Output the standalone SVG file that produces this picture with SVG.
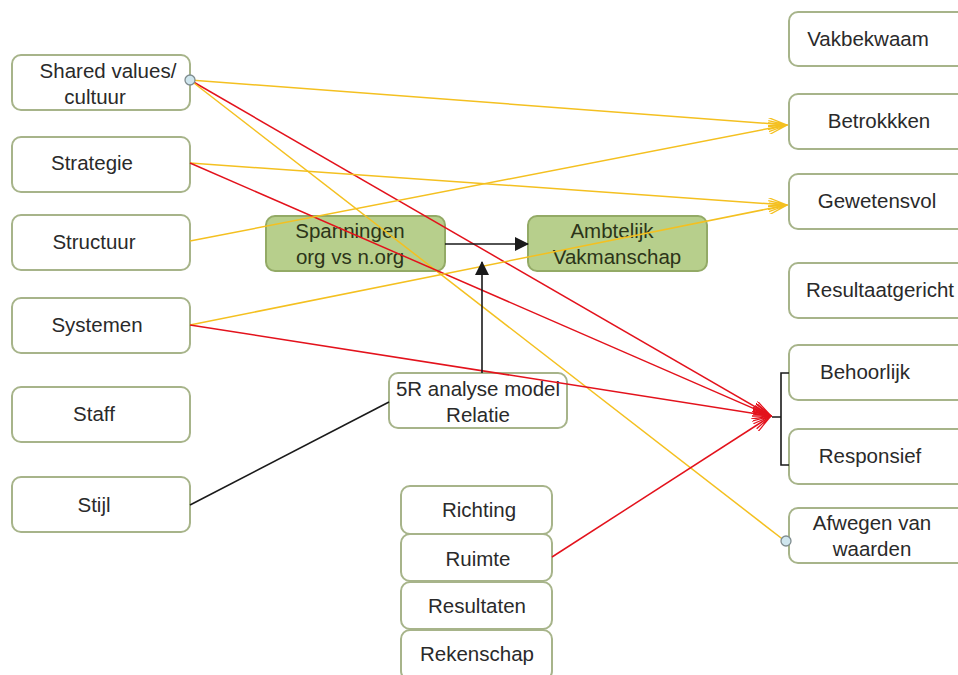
<svg xmlns="http://www.w3.org/2000/svg" width="958" height="675" viewBox="0 0 958 675">
<style>
.n rect{fill:#ffffff;stroke:#a7b48a;stroke-width:2}
.g rect{fill:#b7cf8c;stroke:#93aa66;stroke-width:2}
text{font-family:"Liberation Sans",Arial,sans-serif;font-size:20.5px;fill:#2a2a2a;text-anchor:middle}
.g text{fill:#2c3418}
.y{stroke:#f4c020;stroke-width:1.5;fill:none}
.r{stroke:#e3121c;stroke-width:1.5;fill:none}
.k{stroke:#1a1a1a;stroke-width:1.6;fill:none}
.c{fill:#cfe6ee;stroke:#7f8c8f;stroke-width:1.3}
</style>
<defs>
<marker id="ay" viewBox="0 0 20 12" refX="19" refY="6" markerWidth="20" markerHeight="12" markerUnits="userSpaceOnUse" orient="auto"><path d="M0,0 L19,6 L0,12 M0,3 L19,6 L0,9" fill="none" stroke="#f4c020" stroke-width="1.3"/></marker>
<marker id="ar" viewBox="0 0 20 12" refX="19" refY="6" markerWidth="20" markerHeight="12" markerUnits="userSpaceOnUse" orient="auto"><path d="M0,0 L19,6 L0,12 M0,3 L19,6 L0,9" fill="none" stroke="#e3121c" stroke-width="1.3"/></marker>
<marker id="ak" viewBox="0 0 14 14" refX="13" refY="7" markerWidth="14" markerHeight="14" markerUnits="userSpaceOnUse" orient="auto"><path d="M0,0 L14,7 L0,14 Z" fill="#1a1a1a"/></marker>
</defs>

<g id="n-shared" class="n"><rect x="12" y="55" width="178" height="55" rx="9"/><text x="108" y="78">Shared values/</text><text x="95" y="104">cultuur</text></g>
<g id="n-strategie" class="n"><rect x="12" y="137" width="178" height="55" rx="9"/><text x="92" y="170">Strategie</text></g>
<g id="n-structuur" class="n"><rect x="12" y="215" width="178" height="55" rx="9"/><text x="94" y="249">Structuur</text></g>
<g id="n-systemen" class="n"><rect x="12" y="298" width="178" height="55" rx="9"/><text x="97" y="332">Systemen</text></g>
<g id="n-staff" class="n"><rect x="12" y="387" width="178" height="55" rx="9"/><text x="94" y="421">Staff</text></g>
<g id="n-stijl" class="n"><rect x="12" y="477" width="178" height="55" rx="9"/><text x="94" y="512">Stijl</text></g>

<g id="n-vakbekwaam" class="n"><rect x="789" y="12" width="180" height="54" rx="9"/><text x="868" y="46">Vakbekwaam</text></g>
<g id="n-betrokkken" class="n"><rect x="789" y="94" width="180" height="55" rx="9"/><text x="879" y="128">Betrokkken</text></g>
<g id="n-gewetensvol" class="n"><rect x="789" y="174" width="180" height="55" rx="9"/><text x="877" y="208">Gewetensvol</text></g>
<g id="n-resultaatgericht" class="n"><rect x="789" y="263" width="180" height="55" rx="9"/><text x="880" y="297">Resultaatgericht</text></g>
<g id="n-behoorlijk" class="n"><rect x="789" y="345" width="180" height="55" rx="9"/><text x="865" y="379">Behoorlijk</text></g>
<g id="n-responsief" class="n"><rect x="789" y="429" width="180" height="55" rx="9"/><text x="870" y="463">Responsief</text></g>
<g id="n-afwegen" class="n"><rect x="789" y="508" width="180" height="55" rx="9"/><text x="872" y="530">Afwegen van</text><text x="872" y="556">waarden</text></g>

<g id="n-spanningen" class="g"><rect x="266" y="216" width="179" height="55" rx="9"/><text x="350" y="238">Spanningen</text><text x="350" y="264">org vs n.org</text></g>
<g id="n-ambtelijk" class="g"><rect x="528" y="216" width="179" height="55" rx="9"/><text x="612" y="238">Ambtelijk</text><text x="617" y="264">Vakmanschap</text></g>

<g id="n-5r" class="n"><rect x="389" y="373" width="178" height="55" rx="9"/><text x="478" y="396">5R analyse model</text><text x="478" y="422">Relatie</text></g>
<g id="n-richting" class="n"><rect x="401" y="486" width="151" height="48" rx="9"/><text x="479" y="517">Richting</text></g>
<g id="n-ruimte" class="n"><rect x="401" y="534" width="151" height="47" rx="9"/><text x="478" y="566">Ruimte</text></g>
<g id="n-resultaten" class="n"><rect x="401" y="582" width="151" height="47" rx="9"/><text x="477" y="613">Resultaten</text></g>
<g id="n-rekenschap" class="n"><rect x="401" y="630" width="151" height="50" rx="9"/><text x="477" y="661">Rekenschap</text></g>

<g id="connectors">
<line class="y" x1="190" y1="80" x2="787" y2="125" marker-end="url(#ay)"/>
<line class="r" x1="190" y1="80" x2="771" y2="416" marker-end="url(#ar)"/>
<line class="y" x1="190" y1="80" x2="785" y2="541"/>
<line class="y" x1="190" y1="163" x2="787" y2="205" marker-end="url(#ay)"/>
<line class="r" x1="190" y1="163" x2="771" y2="416" marker-end="url(#ar)"/>
<line class="y" x1="190" y1="241" x2="787" y2="125" marker-end="url(#ay)"/>
<line class="y" x1="190" y1="325" x2="787" y2="205" marker-end="url(#ay)"/>
<line class="r" x1="190" y1="325" x2="771" y2="416" marker-end="url(#ar)"/>
<line class="r" x1="552" y1="557" x2="771" y2="416" marker-end="url(#ar)"/>
<line class="k" x1="190" y1="505" x2="389" y2="402"/>
<line class="k" x1="482" y1="373" x2="482" y2="262" marker-end="url(#ak)"/>
<line class="k" x1="445" y1="244" x2="528" y2="244" marker-end="url(#ak)"/>
<path class="k" d="M789,373 H781 V465 H789 M781,417 H772"/>
<circle class="c" cx="190" cy="80" r="5"/>
<circle class="c" cx="786" cy="541" r="5"/>
</g>
</svg>
